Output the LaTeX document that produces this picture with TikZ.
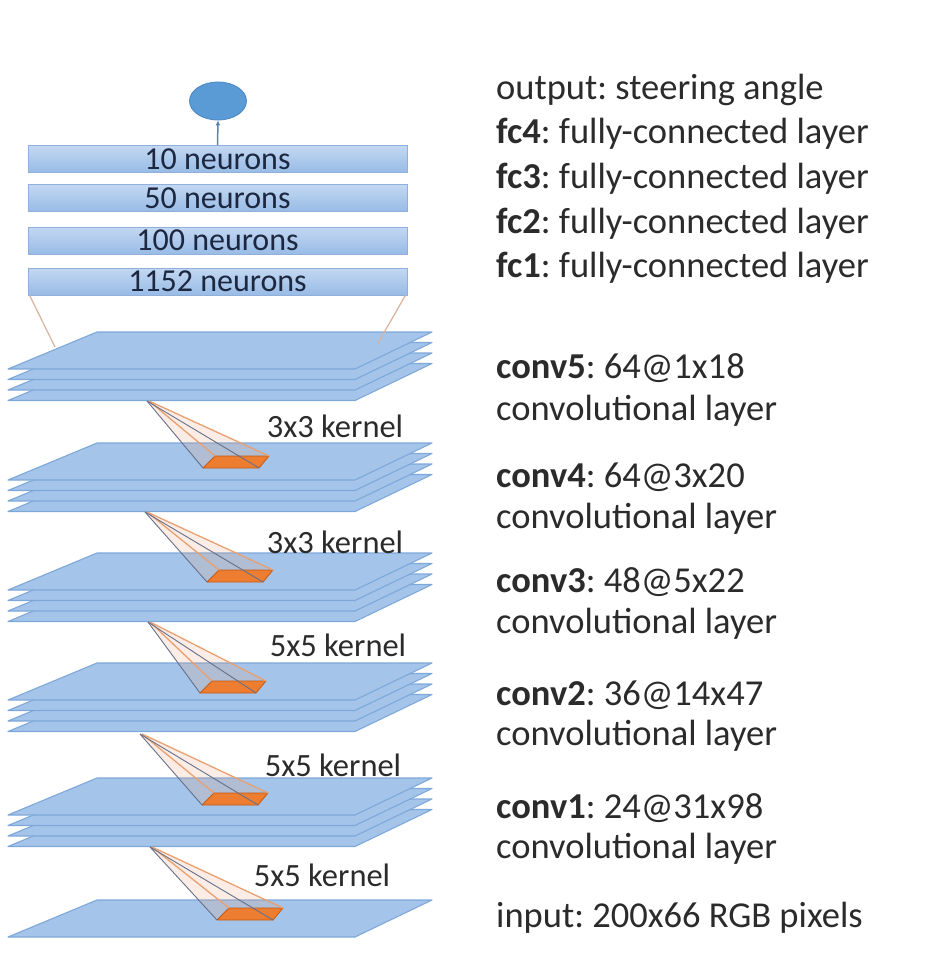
\documentclass[tikz,border=0pt]{standalone}
\usepackage{fontspec}
\setmainfont{Carlito}
\usetikzlibrary{shapes.geometric,arrows.meta}
\frenchspacing
\definecolor{planefill}{HTML}{A4C4EA}
\definecolor{planeedge}{HTML}{7EA8DA}
\definecolor{fctop}{HTML}{C3D8F2}
\definecolor{fcbot}{HTML}{98BBE5}
\definecolor{fcedge}{HTML}{8EB0DA}
\definecolor{outfill}{HTML}{5B9BD5}
\definecolor{outedge}{HTML}{4A86C0}
\definecolor{kfill}{HTML}{ED7D31}
\definecolor{kedge}{HTML}{C55A11}
\definecolor{klineA}{HTML}{E9A070}
\definecolor{klineB}{HTML}{66708A}
\definecolor{fcline}{HTML}{D9B39E}
\definecolor{txt}{HTML}{2B2B2B}
\definecolor{fctxt}{HTML}{1C2740}
\tikzset{
  planestyle/.style={fill=planefill,draw=planeedge,line width=1.1pt,line join=round},
  fcbox/.style={draw=fcedge,line width=0.8pt,top color=fctop,bottom color=fcbot,minimum width=379pt,minimum height=27pt,inner sep=0pt,text=fctxt,font=\fontsize{32}{33}\selectfont},
  outnode/.style={ellipse,fill=outfill,draw=outedge,line width=0.8pt,minimum width=57pt,minimum height=38pt,inner sep=0pt},
  rtext/.style={anchor=base west,inner sep=0pt,text=txt,font=\fontsize{36.5}{38}\selectfont},
  klabel/.style={inner sep=0pt,text=txt,font=\fontsize{32.5}{34}\selectfont},
  kbox/.style={fill=kfill,draw=kedge,line width=0.8pt,line join=round},
  kface/.style={fill=klineA,fill opacity=0.18,draw=none},
  klA/.style={draw=klineA,line width=1.3pt},
  klB/.style={draw=klineB,line width=0.9pt},
  fcl/.style={draw=fcline,line width=1.2pt}
}
\newcommand\myplane[1]{\draw[planestyle] (97,{#1}) -- (432,{#1}) -- (355,{#1+37}) -- (8,{#1+37}) -- cycle;}
\newcommand\mystack[1]{\foreach \k in {3,2,1,0} {\myplane{#1+\k*10.5}}}
% apex x, apex y, kernel bottom-left x, y
\newcommand\mykernel[4]{%
  \coordinate (ap) at (#1,#2);
  \coordinate (ka) at (#3,#4);
  \coordinate (kb) at ({#3+12},{#4-12});
  \coordinate (kc) at ({#3+66},{#4-12});
  \coordinate (kd) at ({#3+56},{#4});
  \fill[kface] (ap) -- (ka) -- (kd) -- (kc) -- cycle;
  \draw[kbox] (ka) -- (kb) -- (kc) -- (kd) -- cycle;
  \draw[klA] ([xshift=2pt]ap) -- (kc);
  \draw[klA] ([xshift=2pt]ap) -- (kb);
  \draw[klB] (ap) -- (ka);
  \draw[klB] (ap) -- (kd);
}
\begin{document}
\begin{tikzpicture}[x=1pt,y=-1pt]
\useasboundingbox (0,0) rectangle (936,972);
\fill[white] (0,0) rectangle (936,972);

% output and fully connected layers
\node[outnode] (out) at (218,101) {};
\node[fcbox] (fc4) at (217.5,159) {10 neurons};
\node[fcbox] (fc3) at (217.5,198) {50 neurons};
\node[fcbox] (fc2) at (217.5,240.5) {100 neurons};
\node[fcbox] (fc1) at (217.5,281.5) {1152 neurons};
\draw[draw=outedge!70!gray,line width=1.5pt,-{Latex[length=5pt,width=5pt]}] (fc4.north) -- (out.south);

% conv stacks
\mystack{332}
\mystack{443}
\mystack{553}
\mystack{663}
\mystack{778}
\myplane{900}

% connection fc1 -> conv5
\coordinate (c5l) at (55,347);
\coordinate (c5r) at (378,343);
\draw[fcl] ([xshift=2pt]fc1.south west) -- (c5l);
\draw[fcl] ([xshift=-2pt]fc1.south east) -- (c5r);

% kernels
\mykernel{147}{401}{203}{468}
\mykernel{145}{512}{207}{582}
\mykernel{148}{622}{200}{693}
\mykernel{140}{734}{202}{805}
\mykernel{150}{847}{217}{920}

% kernel labels
\node[klabel] (k5) at (335,426) {3x3 kernel};
\node[klabel] (k4) at (335,542) {3x3 kernel};
\node[klabel] (k3) at (338,645) {5x5 kernel};
\node[klabel] (k2) at (333,765) {5x5 kernel};
\node[klabel] (k1) at (322,875) {5x5 kernel};

% right column
\node[rtext] (t0) at (496,99) {output: steering angle};
\node[rtext] (t1) at (496,143) {\textbf{fc4}: fully-connected layer};
\node[rtext] (t2) at (496,188) {\textbf{fc3}: fully-connected layer};
\node[rtext] (t3) at (496,233) {\textbf{fc2}: fully-connected layer};
\node[rtext] (t4) at (496,277) {\textbf{fc1}: fully-connected layer};
\node[rtext] (t5) at (496,378) {\textbf{conv5}: 64@1x18};
\node[rtext] (t5b) at (496,420) {convolutional layer};
\node[rtext] (t6) at (496,487) {\textbf{conv4}: 64@3x20};
\node[rtext] (t6b) at (496,528) {convolutional layer};
\node[rtext] (t7) at (496,592) {\textbf{conv3}: 48@5x22};
\node[rtext] (t7b) at (496,633) {convolutional layer};
\node[rtext] (t8) at (496,705) {\textbf{conv2}: 36@14x47};
\node[rtext] (t8b) at (496,745) {convolutional layer};
\node[rtext] (t9) at (496,818) {\textbf{conv1}: 24@31x98};
\node[rtext] (t9b) at (496,858) {convolutional layer};
\node[rtext] (t10) at (496,927) {input: 200x66 RGB pixels};
\end{tikzpicture}
\end{document}
